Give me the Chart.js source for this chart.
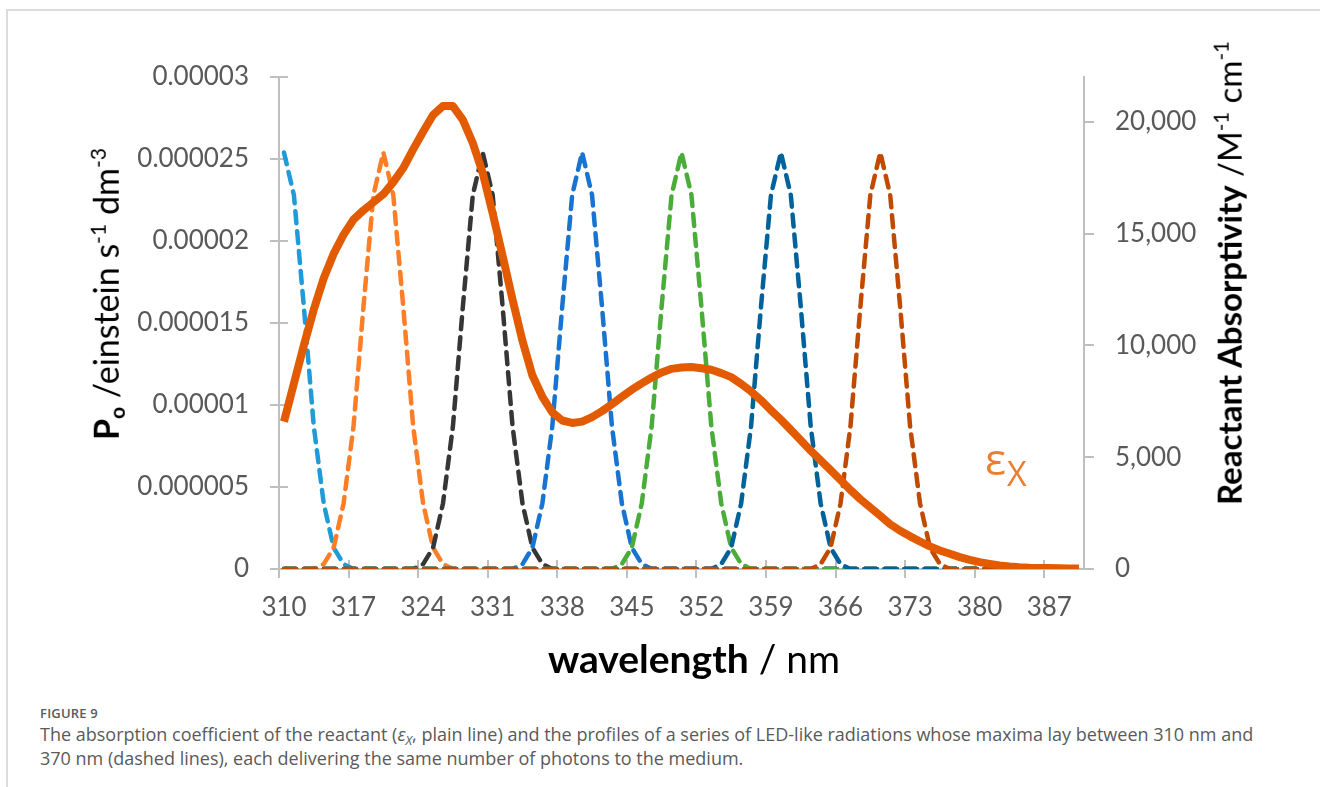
<!DOCTYPE html>
<html>
<head>
<meta charset="utf-8">
<title>Figure 9</title>
<script src="https://cdn.jsdelivr.net/npm/chart.js@4.4.1/dist/chart.umd.min.js"></script>
<style>
    html, body { margin: 0; padding: 0; background: #fff; }
    body { width: 1320px; height: 787px; position: relative; overflow: hidden; font-family: Lato, "Open Sans", sans-serif; }
    .frame { position: absolute; left: 6px; top: 9px; width: 1400px; height: 900px; border: 2px solid #dcdcdc; box-sizing: border-box; }
    .chart-box { position: absolute; left: 0; top: 0; width: 1320px; height: 700px; }
    .title { position: absolute; white-space: nowrap; color: #000; line-height: 1; transform: translate(-50%, -50%); }
    .rot { transform: translate(-50%, -50%) rotate(-90deg); }
    .sub { font-size: 0.62em; vertical-align: -0.3em; }
    .sup { font-size: 0.62em; vertical-align: 0.62em; }
    #titleLeft { left: 107px; top: 294px; font-size: 34px; }
    #titleRight { left: 1228px; top: 273px; font-size: 33px; }
    #titleBottom { left: 694px; top: 658px; font-size: 39px; }
    #epsLabel { position: absolute; left: 985px; top: 436px; color: #ed7d31; font-family: "Open Sans", sans-serif; line-height: 1; white-space: nowrap; }
    #epsLabel .eps { font-size: 44px; }
    #epsLabel .x { font-size: 34px; vertical-align: -0.32em; margin-left: 1px; }
    .caption { position: absolute; left: 40px; top: 704px; color: #5a5a5a; font-family: "Open Sans", sans-serif; }
    .caption .fig { font-size: 13px; font-weight: 600; letter-spacing: 0.2px; line-height: 18px; }
    .caption .text { font-size: 18px; line-height: 24px; }
    .caption .sx { font-size: 0.7em; position: relative; top: 0.3em; line-height: 0; }
</style>
</head>
<body>
<div class="frame"></div>
<div class="chart-box"><canvas id="spectrumChart"></canvas></div>

<div class="title rot" id="titleLeft"><b>P<span class="sub">o</span></b> /einstein s<span class="sup">-1</span> dm<span class="sup">-3</span></div>
<div class="title rot" id="titleRight"><b>Reactant Absorptivity</b> /M<span class="sup">-1</span> cm<span class="sup">-1</span></div>
<div class="title" id="titleBottom"><b>wavelength</b> / nm</div>
<div id="epsLabel"><span class="eps">ε</span><span class="x">X</span></div>

<div class="caption">
    <div class="fig">FIGURE 9</div>
    <div class="text">The absorption coefficient of the reactant (<i>ε<span class="sx">X</span></i>, plain line) and the profiles of a series of LED-like radiations whose maxima lay between 310 nm and<br>370 nm (dashed lines), each delivering the same number of photons to the medium.</div>
</div>

<script>
// wavelength grid (nm)
const wavelengths = [
    310, 311, 312, 313, 314, 315, 316, 317, 318, 319,
    320, 321, 322, 323, 324, 325, 326, 327, 328, 329,
    330, 331, 332, 333, 334, 335, 336, 337, 338, 339,
    340, 341, 342, 343, 344, 345, 346, 347, 348, 349,
    350, 351, 352, 353, 354, 355, 356, 357, 358, 359,
    360, 361, 362, 363, 364, 365, 366, 367, 368, 369,
    370, 371, 372, 373, 374, 375, 376, 377, 378, 379,
    380, 381, 382, 383, 384, 385, 386, 387, 388, 389,
    390];

// reactant absorptivity, M-1 cm-1
const epsilonX = [
    6590, 8300, 10000, 11600, 13000, 14100, 14950, 15630, 16040, 16400,
    16760, 17300, 17930, 18760, 19550, 20300, 20700, 20700, 20080, 19050,
    17710, 15900, 14000, 12050, 10200, 8650, 7700, 7000, 6640, 6530,
    6590, 6790, 7060, 7370, 7700, 8020, 8300, 8560, 8790, 8950,
    9010, 9030, 8980, 8910, 8760, 8580, 8280, 7940, 7550, 7100,
    6680, 6220, 5760, 5290, 4860, 4420, 3980, 3530, 3120, 2750,
    2380, 2000, 1710, 1460, 1230, 1010, 830, 680, 530, 410,
    310, 230, 160, 110, 80, 60, 50, 40, 30, 25,
    20];

// LED photon flux, µeinstein s-1 dm-3, non-zero part of each profile
// (ledStart = first wavelength of each list)
const ledNames = ['LED 310', 'LED 320', 'LED 330', 'LED 340', 'LED 350', 'LED 360', 'LED 370'];
const ledStart = [310, 314, 324, 334, 344, 354, 364];
const led310 = [25.4, 22.8, 16.0, 8.7, 4.0, 1.3, 0.3];
const led320 = [0.3, 1.3, 4.0, 8.7, 16.0, 22.8, 25.4, 22.8, 16.0, 8.7, 4.0, 1.3, 0.3];
const led330 = [0.3, 1.3, 4.0, 8.7, 16.0, 22.8, 25.4, 22.8, 16.0, 8.7, 4.0, 1.3, 0.3];
const led340 = [0.3, 1.3, 4.0, 8.7, 16.0, 22.8, 25.4, 22.8, 16.0, 8.7, 4.0, 1.3, 0.3];
const led350 = [0.3, 1.3, 4.0, 8.7, 16.0, 22.8, 25.4, 22.8, 16.0, 8.7, 4.0, 1.3, 0.3];
const led360 = [0.3, 1.3, 4.0, 8.7, 16.0, 22.8, 25.4, 22.8, 16.0, 8.7, 4.0, 1.3, 0.3];
const led370 = [0.3, 1.3, 4.0, 8.7, 16.0, 22.8, 25.4, 22.8, 16.0, 8.7, 4.0, 1.3, 0.3];
const ledValues = [led310, led320, led330, led340, led350, led360, led370];
const ledColors = ['#1f9bd7', '#fd7e26', '#363636', '#1874d0', '#4aad3a', '#00629b', '#c04a00'];

// axis ticks
const xTickLabels = [310, 317, 324, 331, 338, 345, 352, 359, 366, 373, 380, 387];
const leftTicks = [0, 0.000005, 0.00001, 0.000015, 0.00002, 0.000025, 0.00003];
const rightTicks = [0, 5000, 10000, 15000, 20000];

const axisGray = '#bfbfbf';
const labelGray = '#595959';

document.addEventListener("DOMContentLoaded", function () {

    // spread each LED list over the full wavelength grid, zero elsewhere
    function ledSeries(k) {
        return wavelengths.map(function (w) {
            const i = w - ledStart[k];
            const v = (i >= 0 && i < ledValues[k].length) ? ledValues[k][i] : 0;
            return v * 1e-6;
        });
    }

    const datasets = [{
        label: 'εX',
        data: epsilonX,
        yAxisID: 'y1',
        borderColor: '#e35b00',
        borderWidth: 8,
        borderCapStyle: 'butt',
        borderJoinStyle: 'round',
        pointRadius: 0,
        tension: 0,
        fill: false,
        order: 0
    }];

    ledNames.forEach(function (name, k) {
        datasets.push({
            label: name,
            data: ledSeries(k),
            yAxisID: 'y',
            borderColor: ledColors[k],
            borderWidth: 4.5,
            borderDash: [12, 8],
            borderCapStyle: 'round',
            borderJoinStyle: 'round',
            pointRadius: 0,
            tension: 0,
            fill: false,
            order: ledNames.length - k
        });
    });

    // short tick stubs on the inner side of the left and bottom axes
    const innerTicks = {
        id: 'innerTicks',
        beforeDatasetsDraw(chart) {
            const { ctx, chartArea, scales } = chart;
            ctx.save();
            ctx.strokeStyle = axisGray;
            ctx.lineWidth = 2;
            ctx.beginPath();
            scales.y.ticks.forEach(function (t) {
                const py = Math.round(scales.y.getPixelForValue(t.value));
                ctx.moveTo(chartArea.left, py);
                ctx.lineTo(chartArea.left + 9, py);
            });
            scales.x.ticks.forEach(function (t) {
                const px = Math.round(scales.x.getPixelForValue(t.value));
                ctx.moveTo(px, chartArea.bottom);
                ctx.lineTo(px, chartArea.bottom - 9);
            });
            ctx.stroke();
            ctx.restore();
        }
    };

    const tickFont = { family: 'Lato', size: 26 };

    const ctx = document.getElementById('spectrumChart').getContext('2d');
    new Chart(ctx, {
        type: 'line',
        data: { labels: wavelengths, datasets: datasets },
        plugins: [innerTicks],
        options: {
            responsive: true,
            maintainAspectRatio: false,
            animation: false,
            events: [],
            layout: { padding: { top: 77, left: 0, right: 0, bottom: 0 } },
            plugins: {
                legend: { display: false },
                tooltip: { enabled: false }
            },
            scales: {
                x: {
                    type: 'linear',
                    min: 309.5,
                    max: 390.5,
                    bounds: 'data',
                    afterBuildTicks: function (scale) {
                        // tick marks sit on the category boundaries
                        scale.ticks = xTickLabels.map(v => ({ value: v - 0.5 }));
                    },
                    afterFit: function (scale) { scale.height = 131; },
                    grid: { drawOnChartArea: false, color: axisGray, lineWidth: 2, tickLength: 9 },
                    border: { color: axisGray, width: 2 },
                    ticks: {
                        font: tickFont,
                        color: labelGray,
                        padding: 14,
                        labelOffset: 5,
                        maxRotation: 0,
                        autoSkip: false,
                        callback: function (value) { return String(value + 0.5); }
                    }
                },
                y: {
                    position: 'left',
                    min: 0,
                    max: 0.00003,
                    bounds: 'data',
                    afterBuildTicks: function (scale) {
                        scale.ticks = leftTicks.map(v => ({ value: v }));
                    },
                    afterFit: function (scale) { scale.width = 279; },
                    grid: { drawOnChartArea: false, color: axisGray, lineWidth: 2, tickLength: 9 },
                    border: { color: axisGray, width: 2 },
                    ticks: {
                        font: tickFont,
                        color: labelGray,
                        padding: 21,
                        callback: function (value) { return value === 0 ? '0' : String(value); }
                    }
                },
                y1: {
                    position: 'right',
                    min: 0,
                    max: 22000,
                    bounds: 'data',
                    afterBuildTicks: function (scale) {
                        scale.ticks = rightTicks.map(v => ({ value: v }));
                    },
                    afterFit: function (scale) { scale.width = 236; },
                    grid: { drawOnChartArea: false, color: axisGray, lineWidth: 2, tickLength: 10 },
                    border: { color: axisGray, width: 2 },
                    ticks: {
                        font: tickFont,
                        color: labelGray,
                        padding: 21,
                        callback: function (value) { return value.toLocaleString('en-US'); }
                    }
                }
            }
        }
    });
});
</script>
</body>
</html>
